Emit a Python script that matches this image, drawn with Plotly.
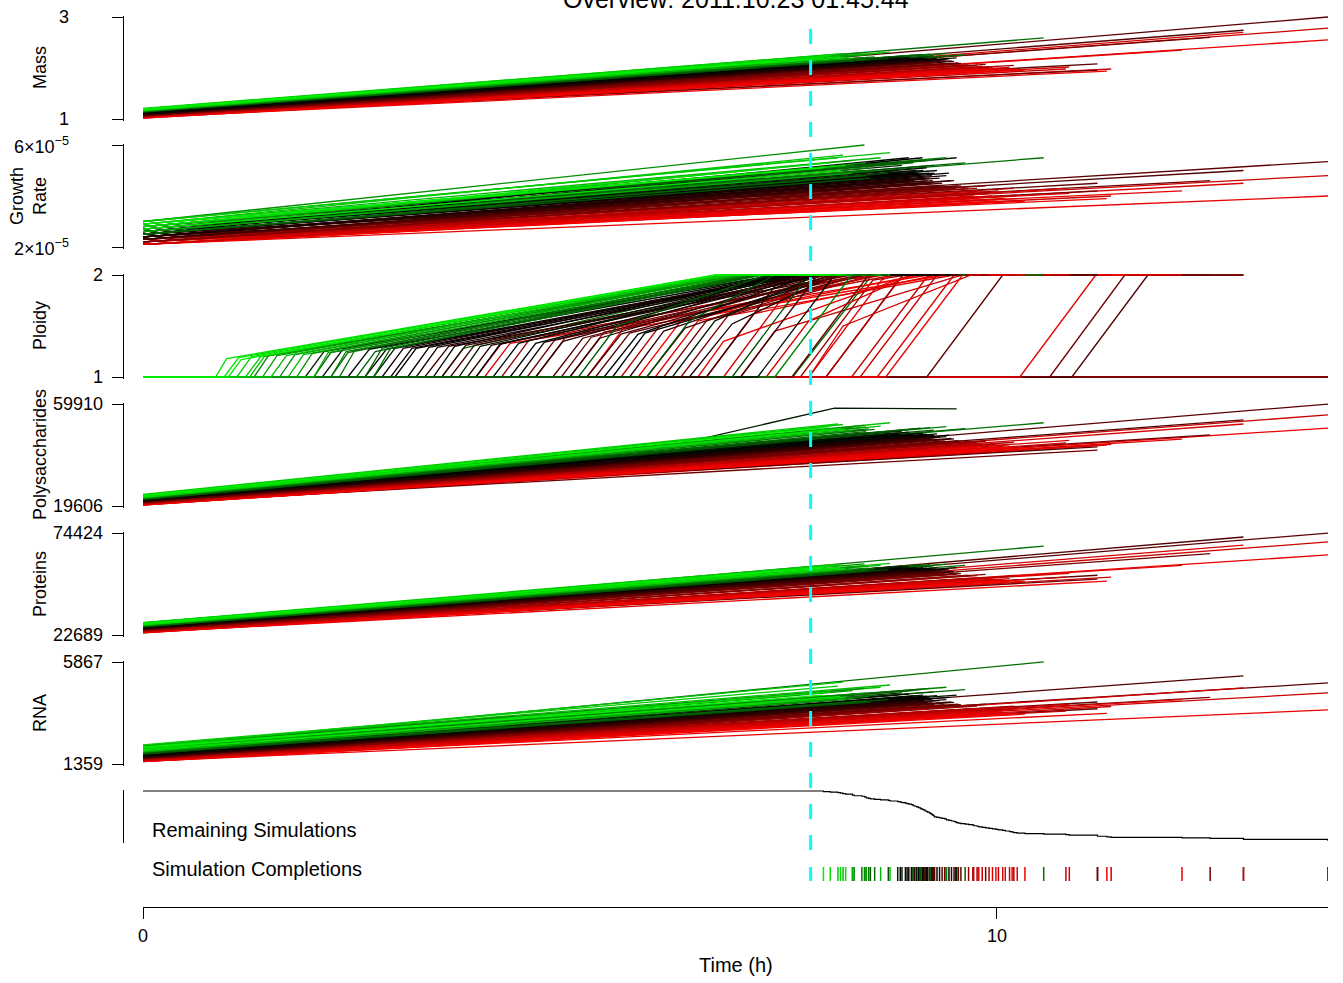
import plotly.graph_objects as go

W, H = 1343, 983
FONT = "Liberation Sans, Arial, Helvetica, sans-serif"

# ---------------- data (one entry per simulation, sorted by completion) ----------------
end_time = [7.97, 8.05, 8.14, 8.17, 8.20, 8.23, 8.31, 8.31, 8.33, 8.42,
            8.45, 8.47, 8.47, 8.50, 8.52, 8.57, 8.64, 8.73, 8.75, 8.84,
            8.87, 8.89, 8.93, 8.95, 8.97, 9.00, 9.02, 9.02, 9.04, 9.06,
            9.08, 9.09, 9.11, 9.11, 9.13, 9.14, 9.16, 9.16, 9.18, 9.19,
            9.21, 9.22, 9.22, 9.24, 9.24, 9.25, 9.26, 9.27, 9.27, 9.30,
            9.33, 9.36, 9.39, 9.41, 9.41, 9.44, 9.47, 9.50, 9.52, 9.53,
            9.55, 9.58, 9.63, 9.67, 9.72, 9.73, 9.77, 9.79, 9.83, 9.87,
            9.91, 9.95, 9.99, 10.02, 10.07, 10.10, 10.15, 10.18, 10.20, 10.24,
            10.33, 10.55, 10.81, 10.85, 11.18, 11.18, 11.29, 11.34, 12.17, 12.50,
            12.89, 12.89, 13.88, 13.88, 13.88]

# position on green -> black -> red colour ramp
color_val = [.03, .06, .10, .05, .12, .08, .20, .16, .24, .27,
             .22, .30, .18, .26, .33, .28, .14, .34, .12, .45,
             .50, .42, .47, .55, .48, .57, .52, .30, .58, .46,
             .53, .50, .62, .32, .50, .45, .56, .66, .49, .60,
             .52, .60, .28, .54, .64, .62, .35, .51, .70, .47,
             .58, .65, .72, .55, .25, .50, .60, .62, .74, .45,
             .68, .70, .30, .78, .85, .90, .80, .95, .88, .75,
             .85, .92, .98, .86, .93, .95, .90, .96, .82, .94,
             .97, .28, .88, .92, .68, .72, .96, .90, .95, .72,
             .66, .92, .68, .96, .90]

mass_start = [1.20, 1.19, 1.21, 1.18, 1.20, 1.17, 1.18, 1.16, 1.17, 1.15,
              1.19, 1.15, 1.18, 1.16, 1.14, 1.16, 1.19, 1.14, 1.20, 1.13,
              1.12, 1.14, 1.11, 1.10, 1.13, 1.09, 1.11, 1.15, 1.09, 1.12,
              1.10, 1.11, 1.08, 1.15, 1.11, 1.12, 1.10, 1.08, 1.12, 1.09,
              1.11, 1.09, 1.16, 1.10, 1.08, 1.09, 1.14, 1.11, 1.07, 1.12,
              1.10, 1.08, 1.07, 1.10, 1.16, 1.11, 1.09, 1.09, 1.06, 1.12,
              1.07, 1.07, 1.15, 1.06, 1.05, 1.04, 1.06, 1.03, 1.05, 1.06,
              1.05, 1.04, 1.02, 1.05, 1.03, 1.03, 1.04, 1.03, 1.06, 1.03,
              1.02, 1.17, 1.04, 1.05, 1.08, 1.06, 1.03, 1.04, 1.05, 1.07,
              1.08, 1.04, 1.08, 1.03, 1.05]
mass_end = [2.20, 2.24, 2.27, 2.22, 2.28, 2.21, 2.25, 2.19, 2.23, 2.20,
            2.30, 2.18, 2.26, 2.21, 2.17, 2.22, 2.29, 2.19, 2.31, 2.20,
            2.18, 2.22, 2.17, 2.15, 2.21, 2.14, 2.18, 2.25, 2.13, 2.19,
            2.16, 2.17, 2.12, 2.26, 2.18, 2.20, 2.15, 2.11, 2.19, 2.13,
            2.17, 2.14, 2.27, 2.16, 2.12, 2.13, 2.24, 2.17, 2.10, 2.19,
            2.15, 2.12, 2.09, 2.16, 2.28, 2.18, 2.14, 2.13, 2.08, 2.20,
            2.10, 2.09, 2.26, 2.06, 2.02, 2.00, 2.05, 1.98, 2.03, 2.07,
            2.02, 2.00, 1.96, 2.03, 1.99, 1.98, 2.01, 1.97, 2.05, 1.98,
            1.96, 2.59, 1.98, 2.02, 2.08, 1.96, 1.94, 1.98, 2.35, 2.60,
            2.74, 2.70, 3.00, 2.55, 2.78]

# growth rate, in units of 1e-5
growth_start = [2.9, 2.8, 3.0, 2.7, 2.9, 2.8, 2.7, 2.6, 2.8, 2.6,
                3.0, 2.5, 2.8, 2.7, 2.5, 2.6, 2.9, 2.5, 3.0, 2.6,
                2.5, 2.7, 2.5, 2.4, 2.6, 2.4, 2.5, 2.8, 2.4, 2.6,
                2.5, 2.5, 2.3, 2.8, 2.5, 2.6, 2.4, 2.3, 2.6, 2.4,
                2.5, 2.4, 2.8, 2.5, 2.3, 2.4, 2.7, 2.5, 2.3, 2.6,
                2.4, 2.3, 2.3, 2.5, 2.9, 2.5, 2.4, 2.4, 2.2, 2.6,
                2.3, 2.3, 2.8, 2.2, 2.2, 2.1, 2.2, 2.1, 2.2, 2.3,
                2.2, 2.1, 2.1, 2.2, 2.1, 2.1, 2.2, 2.1, 2.3, 2.1,
                2.1, 2.7, 2.2, 2.3, 2.4, 2.3, 2.2, 2.2, 2.3, 2.4,
                2.5, 2.2, 2.5, 2.1, 2.3]
growth_end = [5.1, 5.3, 5.5, 5.0, 5.6, 5.2, 5.4, 4.9, 5.2, 5.0,
              6.0, 4.8, 5.3, 5.1, 4.7, 5.0, 5.5, 4.9, 5.7, 5.0,
              4.9, 5.2, 4.8, 4.7, 5.5, 4.6, 4.9, 5.3, 4.6, 5.0,
              4.8, 4.9, 4.5, 5.4, 5.5, 5.0, 4.7, 4.5, 5.1, 4.6,
              4.9, 4.7, 5.4, 4.8, 4.5, 4.6, 5.2, 4.9, 4.4, 5.0,
              4.7, 4.5, 4.4, 4.8, 5.5, 4.9, 4.6, 4.6, 4.3, 5.5,
              4.4, 4.4, 5.3, 4.3, 4.1, 4.0, 4.3, 3.9, 4.2, 4.4,
              4.1, 4.0, 3.8, 4.2, 3.9, 3.9, 4.0, 3.8, 4.3, 3.9,
              3.8, 5.5, 4.3, 4.1, 4.5, 4.2, 3.9, 4.0, 4.2, 4.6,
              5.0, 4.5, 5.35, 4.0, 4.8]

# ploidy: replication start, sample after the start (time, value), time ploidy 2 reached
rep_start = [1.00, 0.85, 1.20, 0.95, 1.50, 1.10, 1.80, 2.00, 1.30, 2.30,
             1.60, 2.60, 1.40, 2.20, 5.10, 2.70, 1.70, 5.90, 1.25, 2.10,
             3.40, 1.90, 4.10, 2.80, 2.40, 4.60, 3.10, 2.50, 5.00, 3.70,
             2.90, 5.40, 3.50, 2.00, 4.30, 6.20, 3.20, 4.80, 2.60, 5.70,
             3.90, 6.60, 2.20, 4.40, 5.20, 3.60, 6.90, 2.95, 4.90, 7.20,
             3.80, 5.90, 4.50, 6.40, 7.40, 5.50, 7.00, 3.30, 6.10, 2.70,
             5.30, 7.60, 3.50, 4.20, 5.60, 6.80, 3.90, 7.80, 5.00, 6.30,
             4.60, 7.30, 5.80, 8.00, 4.00, 6.60, 8.40, 5.20, 7.70, 6.00,
             8.70, 7.61, 8.30, 8.60, 9.18, 8.00, 6.50, 7.00, 10.27, 10.62,
             10.88, 7.80, None, None, None]
rep_knee_time = [1.15, 0.98, 1.38, 1.12, 1.68, 1.27, 1.98, 2.17, 1.47, 2.48,
                 1.78, 2.80, 1.57, 2.38, 5.55, 2.90, 1.88, 6.40, 1.42, 2.35,
                 3.65, 2.12, 4.40, 3.05, 2.65, 4.92, 3.35, 2.72, 5.35, 3.95,
                 3.15, 5.80, 3.78, 2.20, 4.60, 6.70, 3.45, 5.15, 2.85, 6.10,
                 4.18, 7.50, 2.40, 4.70, 5.60, 3.88, 7.80, 3.20, 5.25, 8.10,
                 4.08, 6.35, 4.82, 6.90, 8.30, 5.88, 7.90, 3.58, 6.60, 2.95,
                 5.70, 8.50, 3.75, 4.52, 6.05, 7.60, 4.20, 8.65, 5.40, 6.85,
                 4.95, 7.80, 6.30, 8.85, 4.30, 7.15, 9.30, 5.62, 8.55, 6.50,
                 9.60, 8.54, 9.20, 9.50, 10.07, 8.90, 6.80, 7.40, 11.16, 11.50,
                 11.77, 8.20, None, None, None]
rep_knee_value = [1.17, 1.18, 1.20, 1.19, 1.21, 1.20, 1.23, 1.24, 1.21, 1.26,
                  1.22, 1.28, 1.21, 1.25, 1.50, 1.28, 1.22, 1.55, 1.20, 1.28,
                  1.30, 1.25, 1.33, 1.28, 1.27, 1.35, 1.29, 1.25, 1.38, 1.30,
                  1.28, 1.42, 1.31, 1.24, 1.33, 1.55, 1.29, 1.38, 1.27, 1.45,
                  1.32, 2.00, 1.24, 1.34, 1.42, 1.31, 2.00, 1.28, 1.39, 2.00,
                  1.31, 1.48, 1.36, 1.52, 2.00, 1.43, 2.00, 1.30, 1.55, 1.28,
                  1.43, 2.00, 1.28, 1.36, 1.50, 1.90, 1.33, 1.95, 1.44, 1.60,
                  1.39, 1.55, 1.55, 1.95, 1.33, 1.62, 2.00, 1.47, 1.95, 1.55,
                  2.00, 2.00, 2.00, 2.00, 2.00, 2.00, 1.35, 1.45, 2.00, 2.00,
                  2.00, 1.50, None, None, None]
rep_done = [6.70, 6.72, 6.80, 6.75, 6.85, 6.90, 6.95, 7.00, 7.05, 7.10,
            6.88, 7.20, 6.92, 7.15, 7.30, 7.25, 7.00, 7.40, 7.05, 7.45,
            7.50, 7.40, 7.60, 7.55, 7.50, 7.70, 7.60, 7.20, 7.80, 7.65,
            7.58, 7.85, 7.90, 7.15, 7.70, 7.90, 7.75, 8.00, 7.60, 8.05,
            7.80, 7.50, 7.25, 7.90, 8.10, 7.95, 7.80, 7.70, 8.20, 8.10,
            8.00, 8.15, 8.25, 8.10, 8.30, 8.20, 7.90, 8.30, 8.40, 7.70,
            8.45, 8.50, 7.50, 8.40, 8.60, 8.70, 8.50, 8.80, 8.65, 8.55,
            8.80, 9.00, 9.10, 9.05, 9.20, 9.30, 9.30, 9.40, 8.95, 9.50,
            9.60, 8.54, 9.20, 9.50, 10.07, 8.90, 9.00, 9.60, 11.16, 11.50,
            11.77, 9.70, None, None, None]

# polysaccharides, proteins, RNA (thousands of molecules)
poly_start = [23.8, 23.5, 24.2, 23.2, 23.9, 23.0, 23.4, 22.8, 23.1, 22.6,
              23.7, 22.4, 23.3, 22.9, 22.2, 22.7, 23.6, 22.1, 24.0, 22.5,
              22.2, 22.8, 22.0, 21.8, 22.6, 21.6, 22.1, 23.0, 21.5, 22.3,
              21.9, 22.0, 21.4, 23.1, 22.1, 22.4, 21.7, 21.3, 22.2, 21.5,
              22.0, 21.6, 23.2, 21.9, 21.4, 21.5, 22.9, 22.0, 21.2, 22.3,
              21.7, 21.4, 21.1, 21.8, 23.3, 22.0, 21.5, 21.5, 21.0, 22.0,
              21.2, 21.1, 23.0, 20.9, 20.6, 20.4, 20.8, 20.2, 20.6, 21.0,
              20.6, 20.4, 20.0, 20.6, 20.3, 20.2, 20.4, 20.1, 20.8, 20.2,
              20.0, 23.0, 20.5, 20.8, 21.2, 20.6, 20.2, 20.4, 20.6, 21.0,
              21.4, 20.4, 21.2, 20.1, 20.7]
poly_end = [50.5, 51.0, 52.0, 50.2, 51.8, 50.0, 50.8, 49.5, 50.4, 49.8,
            51.5, 49.0, 50.9, 50.1, 48.6, 49.9, 51.2, 48.8, 52.5, 48.5,
            48.0, 49.2, 47.6, 47.0, 48.8, 46.6, 47.8, 50.0, 46.2, 48.2,
            47.3, 47.5, 46.0, 50.4, 47.7, 48.4, 46.8, 45.8, 48.0, 46.3,
            47.6, 46.5, 50.6, 47.2, 45.9, 46.1, 49.6, 47.5, 45.5, 48.1,
            46.7, 45.8, 45.3, 47.0, 51.0, 47.6, 46.3, 46.1, 45.0, 58.0,
            45.4, 45.2, 50.2, 45.0, 44.0, 43.5, 44.8, 43.0, 44.2, 45.2,
            44.0, 43.6, 42.5, 44.2, 43.2, 43.0, 43.8, 42.8, 44.8, 43.0,
            42.6, 52.5, 44.5, 45.5, 43.0, 41.7, 43.7, 44.0, 46.0, 47.7,
            53.6, 52.0, 59.9, 50.4, 55.6]
# one simulation was only sampled sparsely for polysaccharides
poly_sparse_index = 59
poly_sparse_time = [0.0, 2.9, 5.2, 6.0, 8.1, 9.53]
poly_sparse_value = [22.0, 32.5, 36.0, 42.0, 58.3, 58.0]

prot_start = [28.6, 28.2, 29.0, 28.0, 28.8, 27.8, 28.1, 27.6, 27.9, 27.3,
              28.5, 27.0, 28.3, 27.7, 26.9, 27.4, 28.4, 26.8, 28.9, 27.0,
              26.7, 27.3, 26.5, 26.2, 27.1, 26.0, 26.6, 27.8, 25.9, 26.8,
              26.3, 26.5, 25.7, 27.9, 26.6, 26.9, 26.1, 25.6, 26.7, 25.8,
              26.5, 26.0, 28.0, 26.3, 25.7, 25.8, 27.5, 26.5, 25.5, 26.8,
              26.1, 25.7, 25.4, 26.2, 28.1, 26.5, 25.9, 25.8, 25.3, 26.9,
              25.5, 25.4, 27.8, 25.0, 24.6, 24.3, 24.9, 24.0, 24.6, 25.1,
              24.6, 24.3, 23.8, 24.6, 24.2, 24.1, 24.4, 24.0, 24.9, 24.1,
              23.8, 28.0, 24.5, 24.8, 25.2, 24.6, 24.0, 24.3, 24.6, 25.0,
              25.4, 24.2, 25.2, 23.9, 24.5]
prot_end = [57.0, 57.5, 58.5, 56.8, 58.2, 56.5, 57.2, 56.0, 56.9, 56.2,
            58.8, 55.5, 57.6, 56.6, 55.2, 56.4, 58.0, 55.8, 59.0, 57.0,
            56.5, 57.6, 56.2, 55.8, 57.3, 55.4, 56.4, 58.0, 55.0, 56.8,
            55.9, 56.1, 54.6, 58.2, 56.3, 56.9, 55.5, 54.4, 56.6, 54.9,
            56.0, 55.2, 58.4, 55.8, 54.5, 54.8, 57.8, 56.0, 54.0, 56.7,
            55.4, 54.5, 53.8, 55.7, 58.6, 56.1, 55.0, 54.8, 53.5, 56.9,
            54.0, 53.8, 58.0, 53.0, 51.5, 51.0, 52.8, 50.5, 51.8, 53.4,
            51.6, 51.0, 50.0, 51.9, 50.8, 50.5, 51.3, 50.2, 52.6, 50.4,
            50.0, 67.8, 52.0, 54.0, 53.0, 51.0, 50.0, 52.0, 58.0, 64.0,
            72.4, 68.3, 74.4, 63.3, 69.9]

rna_start = [2.10, 2.05, 2.20, 1.95, 2.12, 2.00, 1.98, 1.90, 2.02, 1.88,
             2.15, 1.85, 2.08, 1.95, 1.82, 1.92, 2.10, 1.80, 2.18, 1.80,
             1.75, 1.85, 1.72, 1.70, 1.82, 1.68, 1.76, 1.95, 1.66, 1.78,
             1.72, 1.74, 1.64, 1.98, 1.75, 1.80, 1.69, 1.63, 1.77, 1.66,
             1.74, 1.67, 2.00, 1.71, 1.64, 1.65, 1.90, 1.73, 1.62, 1.78,
             1.69, 1.64, 1.61, 1.70, 2.02, 1.74, 1.66, 1.65, 1.60, 1.80,
             1.62, 1.61, 1.96, 1.58, 1.54, 1.51, 1.57, 1.48, 1.54, 1.60,
             1.54, 1.51, 1.46, 1.55, 1.50, 1.49, 1.52, 1.48, 1.57, 1.49,
             1.46, 2.05, 1.55, 1.60, 1.70, 1.62, 1.50, 1.52, 1.58, 1.65,
             1.72, 1.55, 1.70, 1.48, 1.58]
rna_end = [4.40, 4.55, 4.80, 4.35, 4.98, 4.30, 4.60, 4.25, 4.45, 4.30,
           4.70, 4.15, 4.50, 4.35, 4.10, 4.40, 4.75, 4.20, 4.85, 4.40,
           4.30, 4.50, 4.25, 4.20, 4.45, 4.15, 4.35, 4.60, 4.10, 4.38,
           4.22, 4.28, 4.05, 4.65, 4.32, 4.40, 4.18, 4.02, 4.36, 4.08,
           4.28, 4.12, 4.70, 4.22, 4.04, 4.06, 4.55, 4.26, 4.00, 4.38,
           4.16, 4.05, 3.98, 4.20, 4.75, 4.30, 4.10, 4.08, 3.95, 4.40,
           4.00, 3.98, 4.65, 3.95, 3.80, 3.70, 3.92, 3.60, 3.82, 4.00,
           3.80, 3.72, 3.55, 3.85, 3.66, 3.62, 3.75, 3.58, 3.92, 3.62,
           3.56, 5.87, 3.70, 4.00, 4.10, 3.80, 3.60, 3.90, 4.20, 4.30,
           5.25, 4.72, 4.94, 3.75, 4.50]

current_time = 7.82
time_max = 13.88
time_ticks = [0, 10]
title_text = "Overview: 2011.10.23 01:45:44"

# panel name, axis range (min/max labels) and tick label text
panel_names = ["Mass", "Growth<br>Rate", "Ploidy", "Polysaccharides", "Proteins", "RNA"]
panel_min = [1, 2e-5, 1, 19606, 22689, 1359]
panel_max = [3, 6e-5, 2, 59910, 74424, 5867]
panel_min_label = ["1", "2×10<sup>−5</sup>", "1", "19606", "22689", "1359"]
panel_max_label = ["3", "6×10<sup>−5</sup>", "2", "59910", "74424", "5867"]

N = len(end_time)
for arr in [color_val, mass_start, mass_end, growth_start, growth_end, rep_start, rep_knee_time,
            rep_knee_value, rep_done, poly_start, poly_end, prot_start, prot_end, rna_start, rna_end]:
    assert len(arr) == N, len(arr)

# ---------------- layout geometry (pixels) ----------------
panel_top = [17, 145, 275, 404, 533, 662]
panel_bottom = [119, 247, 377, 506, 635, 764]
label_right = [71, 71, 105, 105, 105, 105]
rem_top, rem_bottom = 791, 841
axis_x_px = 123
plot_left, plot_right = 143, 1328
xaxis_y_px = 907


def fx(p):
    return p / W


def fy(p):
    return 1 - p / H


def ramp(c):
    if c <= 0.5:
        return "rgb(0,%d,0)" % round(255 * (1 - 2 * c))
    return "rgb(%d,0,0)" % round(255 * (2 * c - 1))


traces = []
for i in reversed(range(N)):
    c = ramp(color_val[i])
    T = end_time[i]

    def add(xs, ys, ax):
        traces.append(go.Scatter(x=xs, y=ys, mode="lines", xaxis="x", yaxis=ax,
                                 line=dict(color=c, width=1.3), hoverinfo="skip",
                                 showlegend=False))

    add([0, T], [mass_start[i], mass_end[i]], "y")
    add([0, T], [growth_start[i] * 1e-5, growth_end[i] * 1e-5], "y2")
    if rep_start[i] is None:
        add([0, T], [1, 1], "y3")
    else:
        add([0, rep_start[i], rep_knee_time[i], rep_done[i], T],
            [1, 1, rep_knee_value[i], 2, 2], "y3")
    if i == poly_sparse_index:
        add(poly_sparse_time, [v * 1000 for v in poly_sparse_value], "y4")
    else:
        add([0, T], [poly_start[i] * 1000, poly_end[i] * 1000], "y4")
    add([0, T], [prot_start[i] * 1000, prot_end[i] * 1000], "y5")
    add([0, T], [rna_start[i] * 1000, rna_end[i] * 1000], "y6")

# remaining simulations (fraction still running)
order = sorted(end_time)
rem_x = [0] + order
rem_y = [1] + [(N - k) / N for k in range(1, N + 1)]
traces.append(go.Scatter(x=rem_x, y=rem_y, mode="lines", xaxis="x", yaxis="y7",
                         line=dict(color="black", width=1.2, shape="hv"),
                         hoverinfo="skip", showlegend=False))

fig = go.Figure(data=traces)

axis_common = dict(anchor="free", position=fx(axis_x_px), showline=True, linecolor="black",
                   linewidth=1, ticks="outside", ticklen=11, tickwidth=1, tickcolor="black",
                   showticklabels=False, showgrid=False, zeroline=False, fixedrange=True)
pad = 1.5
layout_axes = {}
for k in range(6):
    lo, hi = panel_min[k], panel_max[k]
    ppu = (panel_bottom[k] - panel_top[k]) / (hi - lo)
    name = "yaxis" if k == 0 else "yaxis%d" % (k + 1)
    layout_axes[name] = dict(axis_common, domain=[fy(panel_bottom[k] + pad), fy(panel_top[k] - pad)],
                             range=[lo - pad / ppu, hi + pad / ppu], tickvals=[lo, hi])
ppu = (rem_bottom - rem_top) / 1.0
layout_axes["yaxis7"] = dict(axis_common, domain=[fy(rem_bottom + pad), fy(rem_top - pad)],
                             range=[0 - pad / ppu, 1 + pad / ppu], ticks="", tickvals=[])

fig.update_layout(
    width=W, height=H, autosize=False,
    margin=dict(l=0, r=0, t=0, b=0, pad=0),
    paper_bgcolor="white", plot_bgcolor="white",
    font=dict(family=FONT, size=18, color="black"),
    showlegend=False,
    xaxis=dict(domain=[fx(plot_left), fx(plot_right)], range=[0, time_max], anchor="free",
               position=fy(xaxis_y_px), showline=True, linecolor="black", linewidth=1,
               ticks="outside", ticklen=11, tickwidth=1, tickcolor="black",
               tickvals=time_ticks, showticklabels=False, showgrid=False, zeroline=False,
               fixedrange=True),
    **layout_axes,
)

ann = []
# y tick labels and axis titles
for k in range(6):
    yref = "y" if k == 0 else "y%d" % (k + 1)
    for val, txt in [(panel_min[k], panel_min_label[k]), (panel_max[k], panel_max_label[k])]:
        ann.append(dict(x=fx(label_right[k]), xref="paper", y=val, yref=yref, text=txt,
                        xanchor="right", yanchor="middle", showarrow=False,
                        font=dict(size=18)))
    cx = 29 if "<br>" in panel_names[k] else 40
    ann.append(dict(x=fx(cx), xref="paper", y=fy((panel_top[k] + panel_bottom[k]) / 2),
                    yref="paper", text=panel_names[k], textangle=-90, xanchor="center",
                    yanchor="middle", showarrow=False, font=dict(size=18)))
# x tick labels
for t in time_ticks:
    ann.append(dict(x=t, xref="x", y=fy(936), yref="paper", text=str(t), xanchor="center",
                    yanchor="middle", showarrow=False, font=dict(size=18)))
ann.append(dict(x=fx((plot_left + plot_right) / 2), xref="paper", y=fy(965), yref="paper",
                text="Time (h)", xanchor="center", yanchor="middle", showarrow=False,
                font=dict(size=20)))
ann.append(dict(x=fx(150), xref="paper", y=fy(830), yref="paper", text="Remaining Simulations",
                xanchor="left", yanchor="middle", showarrow=False, font=dict(size=20)))
ann.append(dict(x=fx(150), xref="paper", y=fy(869), yref="paper", text="Simulation Completions",
                xanchor="left", yanchor="middle", showarrow=False, font=dict(size=20)))
ann.append(dict(x=fx((plot_left + plot_right) / 2), xref="paper", y=fy(-1), yref="paper",
                text=title_text, xanchor="center", yanchor="middle", showarrow=False,
                font=dict(size=25)))
fig.update_layout(annotations=ann)

shapes = []
for i in range(N):
    shapes.append(dict(type="line", xref="x", yref="paper", x0=end_time[i], x1=end_time[i],
                       y0=fy(881), y1=fy(867), line=dict(color=ramp(color_val[i]), width=1.5)))
shapes.append(dict(type="line", xref="x", yref="paper", x0=current_time, x1=current_time,
                   y0=fy(881), y1=fy(867), line=dict(color="cyan", width=3)))
shapes.append(dict(type="line", xref="x", yref="paper", x0=current_time, x1=current_time,
                   y0=fy(850), y1=fy(17), layer="above",
                   line=dict(color="cyan", width=3, dash="15px,16px")))
fig.update_layout(shapes=shapes)

fig.write_html("out.html", include_plotlyjs=True, full_html=True,
               config={"displayModeBar": False, "staticPlot": True},
               post_script="document.body.style.margin='0';document.body.style.overflow='hidden';")
